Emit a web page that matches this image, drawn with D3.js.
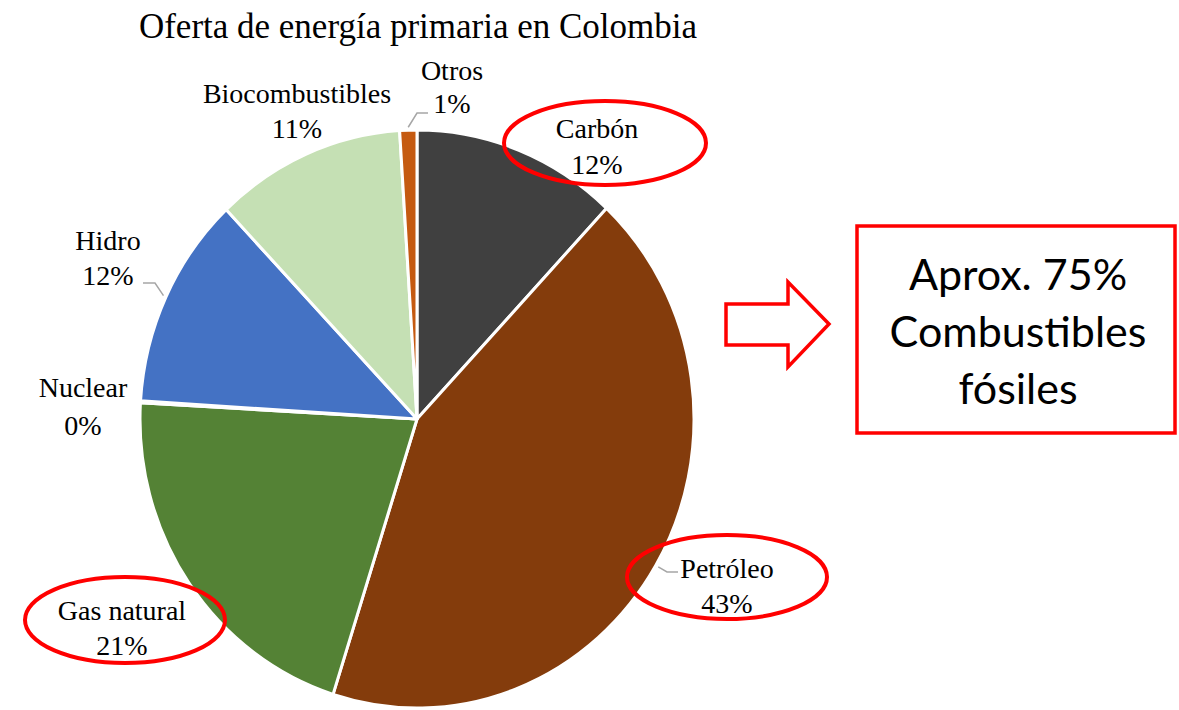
<!DOCTYPE html>
<html>
<head>
<meta charset="utf-8">
<script src="https://cdn.jsdelivr.net/npm/d3@7"></script>
<style>
  html, body { margin: 0; padding: 0; background: #fff; }
  svg { display: block; }
</style>
</head>
<body>
<div id="chart"></div>
<script>
const categories = ["Carbón", "Petróleo", "Gas natural", "Nuclear", "Hidro", "Biocombustibles", "Otros"];
const shares = [12.0, 42.9, 21.0, 0.1, 11.9, 11.1, 1.0];
const pctLabels = ["12%", "43%", "21%", "0%", "12%", "11%", "1%"];
const highlighted = ["Carbón", "Petróleo", "Gas natural"];

const sliceColors = ["#404040", "#843C0C", "#548235", "#A5A5A5", "#4472C4", "#C5E0B4", "#C55A11"];

const width = 1179;
const height = 710;
const cx = 417, cy = 419;
const rx = 277, ry = 289;

// label placement (name line baseline, pct line baseline)
const labelPos = {
    "Carbón": { x: 597, y1: 138, y2: 174 },
    "Petróleo": { x: 727, y1: 578, y2: 613 },
    "Gas natural": { x: 122, y1: 620, y2: 655 },
    "Nuclear": { x: 83, y1: 397, y2: 435 },
    "Hidro": { x: 108, y1: 250, y2: 285 },
    "Biocombustibles": { x: 297, y1: 103, y2: 138 },
    "Otros": { x: 452, y1: 80, y2: 113 }
};
const leaders = {
    "Otros": [[417, 113], [428, 113]],
    "Hidro": [[155, 283], [143, 283]],
    "Petróleo": [[667, 572], [678, 572]]
};
const ellipses = {
    "Carbón": { x: 605, y: 143, rx: 101, ry: 42 },
    "Petróleo": { x: 727, y: 577, rx: 100, ry: 42 },
    "Gas natural": { x: 125, y: 620, rx: 100, ry: 43 }
};

const svg = d3.select("#chart")
    .append("svg")
    .attr("width", width)
    .attr("height", height);

svg.append("text")
    .attr("x", 418)
    .attr("y", 38)
    .attr("text-anchor", "middle")
    .style("font-family", "'Liberation Serif', 'Times New Roman', serif")
    .style("font-size", "35px")
    .text("Oferta de energía primaria en Colombia");

const data = categories.map((c, i) => ({ name: c, value: shares[i], pct: pctLabels[i], color: sliceColors[i] }));

const pie = d3.pie().sort(null).value(d => d.value);
const arcs = pie(data);

const arc = d3.arc().innerRadius(0).outerRadius(rx);

const pieGroup = svg.append("g")
    .attr("transform", `translate(${cx},${cy}) scale(1,${ry / rx})`);

pieGroup.selectAll("path")
    .data(arcs)
    .enter()
    .append("path")
    .attr("d", arc)
    .attr("fill", d => d.data.color)
    .attr("stroke", "#fff")
    .attr("stroke-width", 3)
    .attr("stroke-linejoin", "round")
    .attr("vector-effect", "non-scaling-stroke");

// leader lines
function edgePoint(a, k) {
    const ang = (a.startAngle + a.endAngle) / 2;
    return [cx + rx * k * Math.sin(ang), cy - ry * k * Math.cos(ang)];
}
arcs.forEach(a => {
    const pts = leaders[a.data.name];
    if (!pts) return;
    const line = [edgePoint(a, 1.01)].concat(pts);
    svg.append("path")
        .attr("d", d3.line()(line))
        .attr("fill", "none")
        .attr("stroke", "#A6A6A6")
        .attr("stroke-width", 1.5);
});

// data labels
const labels = svg.append("g")
    .style("font-family", "'Liberation Serif', 'Times New Roman', serif")
    .style("font-size", "28px")
    .attr("fill", "#000")
    .attr("text-anchor", "middle");

data.forEach(d => {
    const p = labelPos[d.name];
    labels.append("text").attr("x", p.x).attr("y", p.y1).text(d.name);
    labels.append("text").attr("x", p.x).attr("y", p.y2).text(d.pct);
});

// red highlight ellipses
highlighted.forEach(name => {
    const e = ellipses[name];
    svg.append("ellipse")
        .attr("cx", e.x)
        .attr("cy", e.y)
        .attr("rx", e.rx)
        .attr("ry", e.ry)
        .attr("fill", "none")
        .attr("stroke", "#FF0000")
        .attr("stroke-width", 4);
});

// arrow
const arrowPts = [[726, 304], [788, 304], [788, 282], [829, 324], [788, 367], [788, 345], [726, 345]];
svg.append("path")
    .attr("d", d3.line()(arrowPts) + "Z")
    .attr("fill", "#fff")
    .attr("stroke", "#FF0000")
    .attr("stroke-width", 3.5)
    .attr("stroke-linejoin", "miter");

// callout box
svg.append("rect")
    .attr("x", 857)
    .attr("y", 226)
    .attr("width", 318)
    .attr("height", 207)
    .attr("fill", "#fff")
    .attr("stroke", "#FF0000")
    .attr("stroke-width", 3.5);

const boxLines = ["Aprox. 75%", "Combustibles", "fósiles"];
svg.append("g")
    .attr("text-anchor", "middle")
    .style("font-family", "Lato, 'Open Sans', sans-serif")
    .style("font-size", "43px")
    .selectAll("text")
    .data(boxLines)
    .enter()
    .append("text")
    .attr("x", 1018)
    .attr("y", (d, i) => 290 + i * 57)
    .text(d => d);
</script>
</body>
</html>
